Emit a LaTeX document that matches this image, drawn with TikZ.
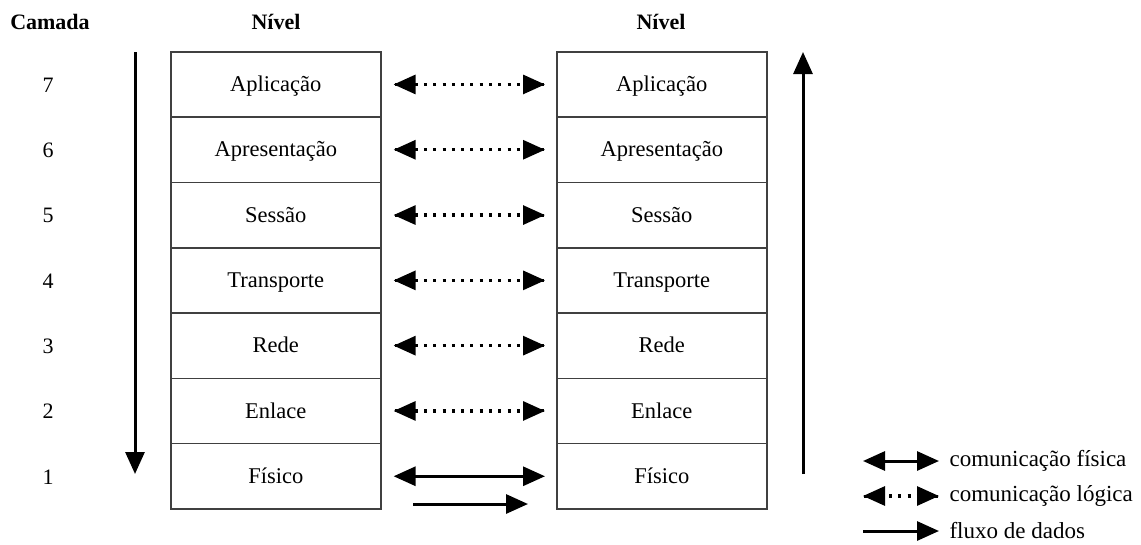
\documentclass[tikz,border=0pt]{standalone}
\usepackage{fontspec}
\setmainfont{Liberation Serif}
\usetikzlibrary{arrows.meta}
\begin{document}
\begin{tikzpicture}[x=1pt,y=-1pt,
  layerbox/.style={draw=black!75,line width=1.6pt,minimum width=210pt,minimum height=65.3pt,inner sep=0pt,font=\fontsize{22.5}{25}\selectfont,anchor=north west},
  lbl/.style={font=\fontsize{22}{25}\selectfont},
  leg/.style={font=\fontsize{23}{26}\selectfont,anchor=west},
  ttl/.style={font=\fontsize{22}{25}\selectfont\bfseries},
  tip/.style={-{Triangle[length=22pt,width=19pt]}},
  dtip/.style={{Triangle[length=22pt,width=19pt]}-{Triangle[length=22pt,width=19pt]}},
  arr/.style={line width=3pt,black},
  dots/.style={line width=3.2pt,black,dash pattern=on 3pt off 6.3pt}]
\useasboundingbox (0,0) rectangle (1141,544);
\node[ttl] (tcam) at (50,22) {Camada};
\node[ttl] (tn1) at (276,22) {Nível};
\node[ttl] (tn2) at (661,22) {Nível};
\foreach \t [count=\i] in {Aplicação,Apresentação,Sessão,Transporte,Rede,Enlace,Físico}{
  \pgfmathsetmacro{\yy}{51+(\i-1)*65.3}
  \pgfmathtruncatemacro{\num}{8-\i}
  \node[layerbox,text depth=1pt] (L\i) at (170,\yy) {\t};
  \node[layerbox,text depth=1pt] (R\i) at (556,\yy) {\t};
  \node[lbl] (n\i) at (48,\yy+34) {\num};
}
\foreach \i in {1,...,6}{
  \coordinate (la\i) at ([xshift=12pt]L\i.east);
  \coordinate (ra\i) at ([xshift=-11pt]R\i.west);
  \draw[dots] ([xshift=21pt]la\i) -- ([xshift=-20pt]ra\i);
  \draw[arr,tip] ([xshift=1pt]la\i) -- (la\i);
  \draw[arr,tip] ([xshift=-1pt]ra\i) -- (ra\i);
}
\coordinate (la7) at ([xshift=12pt]L7.east);
\coordinate (ra7) at ([xshift=-11pt]R7.west);
\draw[arr,dtip] (la7) -- (ra7);
\coordinate (fa) at (413,504);
\coordinate (fb) at (528,504);
\draw[arr,tip] (fa) -- (fb);
\coordinate (dn1) at (135,52);
\coordinate (dn2) at (135,474);
\draw[arr,tip] (dn1) -- (dn2);
\coordinate (up1) at (803,474);
\coordinate (up2) at (803,52);
\draw[arr,tip] (up1) -- (up2);
% legend
\coordinate (g1a) at (863,461); \coordinate (g1b) at (939,461);
\coordinate (g2a) at (863,496); \coordinate (g2b) at (939,496);
\coordinate (g3a) at (863,531); \coordinate (g3b) at (939,531);
\draw[arr,dtip] (g1a) -- (g1b);
\draw[dots] ([xshift=26pt]g2a) -- ([xshift=-22pt]g2b);
\draw[arr,tip] ([xshift=1pt]g2a) -- (g2a);
\draw[arr,tip] ([xshift=-1pt]g2b) -- (g2b);
\draw[arr,tip] (g3a) -- (g3b);
\node[leg] (e1) at (946,461) {comunicação física};
\node[leg] (e2) at (946,496) {comunicação lógica};
\node[leg] (e3) at (946,531) {fluxo de dados};
\end{tikzpicture}
\end{document}
